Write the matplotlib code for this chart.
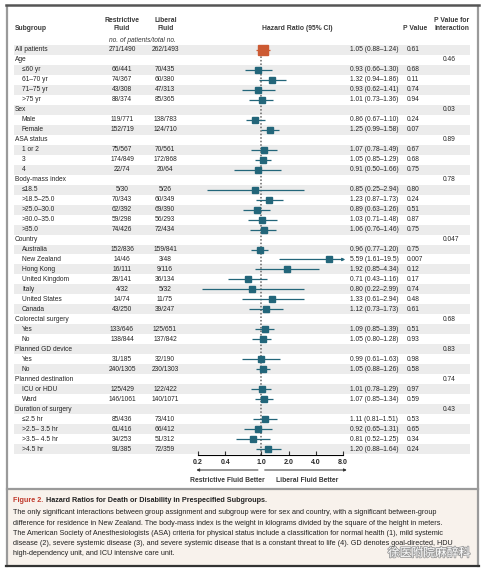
import matplotlib
matplotlib.use("Agg")
import matplotlib.pyplot as plt
import matplotlib.patheffects as pe
from matplotlib.patches import Rectangle
from matplotlib.transforms import blended_transform_factory

plt.rcParams['font.family'] = ['Liberation Sans', 'DejaVu Sans']

# ---- data ----
labels = ["All patients", "Age", "\u226460 yr", "61\u201370 yr", "71\u201375 yr", ">75 yr",
          "Sex", "Male", "Female",
          "ASA status", "1 or 2", "3", "4",
          "Body-mass index", "\u226418.5", ">18.5\u201325.0", ">25.0\u201330.0", ">30.0\u201335.0", ">35.0",
          "Country", "Australia", "New Zealand", "Hong Kong", "United Kingdom", "Italy",
          "United States", "Canada",
          "Colorectal surgery", "Yes", "No",
          "Planned GD device", "Yes", "No",
          "Planned destination", "ICU or HDU", "Ward",
          "Duration of surgery", "\u22642.5 hr", ">2.5\u2013 3.5 hr", ">3.5\u2013 4.5 hr", ">4.5 hr"]
indent = [0, 0, 1, 1, 1, 1, 0, 1, 1, 0, 1, 1, 1, 0, 1, 1, 1, 1, 1,
          0, 1, 1, 1, 1, 1, 1, 1, 0, 1, 1, 0, 1, 1, 0, 1, 1, 0, 1, 1, 1, 1]
restrictive = ["271/1490", "", "66/441", "74/367", "43/308", "88/374", "", "119/771", "152/719",
               "", "75/567", "174/849", "22/74", "", "5/30", "70/343", "62/392", "59/298", "74/426",
               "", "152/836", "14/46", "16/111", "28/141", "4/32", "14/74", "43/250",
               "", "133/646", "138/844", "", "31/185", "240/1305", "", "125/429", "146/1061",
               "", "85/436", "61/416", "34/253", "91/385"]
liberal = ["262/1493", "", "70/435", "60/380", "47/313", "85/365", "", "138/783", "124/710",
           "", "70/561", "172/868", "20/64", "", "5/26", "60/349", "69/390", "56/293", "72/434",
           "", "159/841", "3/48", "9/116", "36/134", "5/32", "11/75", "39/247",
           "", "125/651", "137/842", "", "32/190", "230/1303", "", "122/422", "140/1071",
           "", "73/410", "66/412", "51/312", "72/359"]
hr = [1.05, None, 0.93, 1.32, 0.93, 1.01, None, 0.86, 1.25, None, 1.07, 1.05, 0.91,
      None, 0.85, 1.23, 0.89, 1.03, 1.06, None, 0.96, 5.59, 1.92, 0.71, 0.80, 1.33, 1.12,
      None, 1.09, 1.05, None, 0.99, 1.05, None, 1.01, 1.07, None, 1.11, 0.92, 0.81, 1.20]
lo = [0.88, None, 0.66, 0.94, 0.62, 0.73, None, 0.67, 0.99, None, 0.78, 0.85, 0.50,
      None, 0.25, 0.87, 0.63, 0.71, 0.76, None, 0.77, 1.61, 0.85, 0.43, 0.22, 0.61, 0.73,
      None, 0.85, 0.80, None, 0.61, 0.88, None, 0.78, 0.85, None, 0.81, 0.65, 0.52, 0.88]
hi = [1.24, None, 1.30, 1.86, 1.41, 1.36, None, 1.10, 1.58, None, 1.49, 1.29, 1.66,
      None, 2.94, 1.73, 1.26, 1.48, 1.46, None, 1.20, 19.5, 4.34, 1.16, 2.99, 2.94, 1.73,
      None, 1.39, 1.28, None, 1.63, 1.26, None, 1.29, 1.34, None, 1.51, 1.31, 1.25, 1.64]
pval = ["0.61", "", "0.68", "0.11", "0.74", "0.94", "", "0.24", "0.07", "", "0.67", "0.68", "0.75",
        "", "0.80", "0.24", "0.51", "0.87", "0.75", "", "0.75", "0.007", "0.12", "0.17", "0.74",
        "0.48", "0.61", "", "0.51", "0.93", "", "0.98", "0.58", "", "0.97", "0.59", "",
        "0.53", "0.65", "0.34", "0.24"]
pint = ["", "0.46", "", "", "", "", "0.03", "", "", "0.89", "", "", "", "0.78", "", "", "", "", "",
        "0.047", "", "", "", "", "", "", "", "0.68", "", "", "0.83", "", "", "0.74", "", "",
        "0.43", "", "", "", ""]
ticks = [0.2, 0.4, 1.0, 2.0, 4.0, 8.0]

W, H = 485, 576
teal = "#23667a"
red = "#cc5a33"
txt = "#262626"
FS = 4.8

def fx(p):
    return p / W

def fy(p):
    return 1 - p / H

fig = plt.figure(figsize=(4.85, 5.76), dpi=100)

# frame + caption box
fig.patches.append(Rectangle((fx(7), fy(566)), fx(471), (566 - 489) / H, transform=fig.transFigure,
                             facecolor="#f8f2ec", edgecolor="none", zorder=0))
for x in (7, 478):
    fig.add_artist(plt.Line2D([fx(x), fx(x)], [fy(6), fy(566)], color="#9a9a9a", lw=1.6))
fig.add_artist(plt.Line2D([fx(6), fx(479)], [fy(4.5), fy(4.5)], color="#555555", lw=1.8))
fig.add_artist(plt.Line2D([fx(7), fx(478)], [fy(489), fy(489)], color="#9a9a9a", lw=1.6))
fig.add_artist(plt.Line2D([fx(6), fx(479)], [fy(566), fy(566)], color="#333333", lw=1.6))

ax = fig.add_axes([fx(198), fy(455), fx(343 - 198), (455 - 45) / H])
n = len(labels)
ax.set_xscale("log")
ax.set_xlim(ticks[0], ticks[-1])
ax.set_ylim(n - 1 + 0.6, -0.5)
ax.set_xticks(ticks)
ax.set_xticklabels(["%.1f" % t for t in ticks], fontsize=FS + 0.2, color=txt, fontweight="bold")
ax.minorticks_off()
ax.tick_params(axis="x", direction="in", length=3, width=0.8, pad=3, color="#333333")
ax.set_yticks([])
for s in ("top", "right", "left"):
    ax.spines[s].set_visible(False)
ax.spines["bottom"].set_linewidth(0.8)
ax.patch.set_alpha(0)

row_tr = blended_transform_factory(fig.transFigure, ax.transData)

# shaded bands
for i in range(n):
    if i % 2 == 0:
        ax.add_patch(Rectangle((fx(14), i - 0.5), fx(456), 1, transform=row_tr,
                               facecolor="#ececec", edgecolor="none", zorder=0, clip_on=False))

ax.axvline(1.0, color="#666666", lw=1.1, ls=(0, (1, 1.3)), zorder=1)

for i in range(n):
    x0 = 15 if indent[i] == 0 else 22
    ax.text(fx(x0), i, labels[i], transform=row_tr, fontsize=FS, color=txt, va="center", ha="left")
    if restrictive[i]:
        ax.text(fx(122), i, restrictive[i], transform=row_tr, fontsize=FS, color=txt, va="center", ha="center")
        ax.text(fx(165), i, liberal[i], transform=row_tr, fontsize=FS, color=txt, va="center", ha="center")
    if hr[i] is not None:
        hs = ("%.2f" % hi[i]) if hi[i] < 10 else "%.1f" % hi[i]
        ax.text(fx(350), i, "%.2f (%.2f\u2013%s)" % (hr[i], lo[i], hs),
                transform=row_tr, fontsize=FS, color=txt, va="center", ha="left")
        ax.text(fx(407), i, pval[i], transform=row_tr, fontsize=FS, color=txt, va="center", ha="left")
        c = red if i == 0 else teal
        top = ticks[-1] * 1.06
        if hi[i] > ticks[-1]:
            ax.annotate("", xy=(top, i), xytext=(lo[i], i), annotation_clip=False,
                        arrowprops=dict(arrowstyle="-|>", color=c, lw=0.9, mutation_scale=4,
                                        shrinkA=0, shrinkB=0), zorder=2)
        else:
            ax.hlines(i, lo[i], hi[i], color=c, lw=0.9, zorder=2)
        ax.plot(hr[i], i, marker="s", ms=6.5 if i == 0 else 3.8, color=c, mec=c, zorder=3, clip_on=False)
    if pint[i]:
        ax.text(fx(443), i, pint[i], transform=row_tr, fontsize=FS, color=txt, va="center", ha="left")

# headers
hk = dict(fontsize=FS + 0.1, color="#3a3a3a", fontweight="bold", va="center")
fig.text(fx(15), fy(29), "Subgroup", ha="left", **hk)
fig.text(fx(122), fy(20), "Restrictive", ha="center", **hk)
fig.text(fx(122), fy(29), "Fluid", ha="center", **hk)
fig.text(fx(166), fy(20), "Liberal", ha="center", **hk)
fig.text(fx(166), fy(29), "Fluid", ha="center", **hk)
fig.text(fx(142), fy(40), "no. of patients/total no.", ha="center", va="center", fontsize=FS,
         color="#3a3a3a", style="italic")
fig.text(fx(297), fy(29), "Hazard Ratio (95% CI)", ha="center", **hk)
fig.text(fx(415), fy(29), "P Value", ha="center", **hk)
fig.text(fx(452), fy(20), "P Value for", ha="center", **hk)
fig.text(fx(452), fy(29), "Interaction", ha="center", **hk)

# direction arrows
atr = ax.get_xaxis_transform()
ay = -(470 - 455) / 410
ax.annotate("", xy=(ticks[0] * 0.96, ay), xytext=(0.92, ay), xycoords=atr, textcoords=atr,
            annotation_clip=False,
            arrowprops=dict(arrowstyle="-|>", color="#333333", lw=0.7, mutation_scale=4, shrinkA=0, shrinkB=0))
ax.annotate("", xy=(ticks[-1] * 1.1, ay), xytext=(1.09, ay), xycoords=atr, textcoords=atr,
            annotation_clip=False,
            arrowprops=dict(arrowstyle="-|>", color="#333333", lw=0.7, mutation_scale=4, shrinkA=0, shrinkB=0))
fig.text(fx(227), fy(480), "Restrictive Fluid Better", ha="center", **hk)
fig.text(fx(307), fy(480), "Liberal Fluid Better", ha="center", **hk)

# caption
fig.text(fx(13), fy(501), "Figure 2.", color="#c0392b", fontsize=5.2, fontweight="bold", va="center")
fig.text(fx(46), fy(501), "Hazard Ratios for Death or Disability in Prespecified Subgroups.",
         color="#222222", fontsize=5.2, fontweight="bold", va="center")
caption = ["The only significant interactions between group assignment and subgroup were for sex and country, with a significant between-group",
           "difference for residence in New Zealand. The body-mass index is the weight in kilograms divided by the square of the height in meters.",
           "The American Society of Anesthesiologists (ASA) criteria for physical status include a classification for normal health (1), mild systemic",
           "disease (2), severe systemic disease (3), and severe systemic disease that is a constant threat to life (4). GD denotes goal-directed, HDU",
           "high-dependency unit, and ICU intensive care unit."]
for k, line in enumerate(caption):
    fig.text(fx(13), fy(513 + 10.2 * k), line, color="#222222", fontsize=5.25, va="center")

fig.text(fx(470), fy(553), "\u5f90\u533b\u9644\u9662\u9ebb\u9189\u79d1", ha="right", va="center",
         fontsize=8.5, color="white", family=["Noto Sans CJK SC", "DejaVu Sans"],
         path_effects=[pe.withStroke(linewidth=1.2, foreground="#9a9a9a")])

fig.savefig("out.png", dpi=100)
